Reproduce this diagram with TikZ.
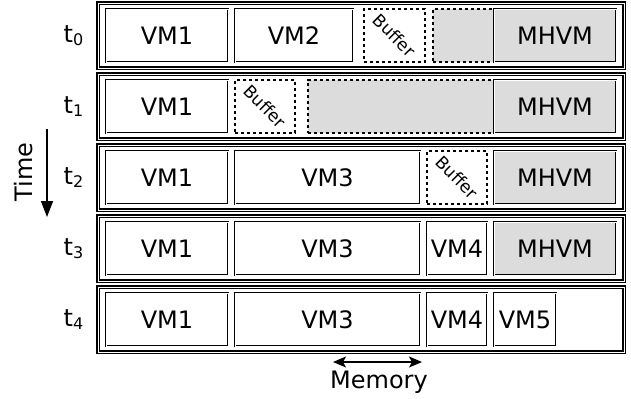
\documentclass[tikz,border=0pt]{standalone}
\usepackage{fontspec}
\setmainfont{DejaVu Sans}
\usetikzlibrary{arrows.meta}
\definecolor{shade}{HTML}{DCDCDC}
\tikzset{
  rowbox/.style={draw=black, line width=0.65pt, double=white, double distance=0.35pt, minimum width=263pt, minimum height=32.5pt, inner sep=0pt},
  vmbox/.style={draw=black, line width=0.5pt, double=white, double distance=0.25pt, minimum height=26.5pt, inner sep=0pt, font=\fontsize{12}{14}\selectfont, fill=white},
  mhbox/.style={vmbox, fill=shade},
  freebox/.style={draw=black, dash pattern=on 1.6pt off 1.4pt, line width=0.7pt, fill=shade, minimum height=26.5pt, inner sep=0pt},
  bufbox/.style={draw=black, dash pattern=on 1.6pt off 1.4pt, line width=0.7pt, fill=white, minimum height=26.5pt, inner sep=0pt},
  buftext/.style={rotate=-45, font=\fontsize{8.5}{9}\selectfont, inner sep=0pt},
  tlabel/.style={font=\fontsize{12}{14}\selectfont, inner sep=0pt},
}
\begin{document}
\begin{tikzpicture}[x=0.5pt,y=-0.5pt]
\useasboundingbox (0,0) rectangle (631,398);
% rows
\foreach \i/\yy in {0/35.5,1/106.5,2/177.5,3/248.5,4/319.5}{
  \node[rowbox] (row\i) at (361,\yy) {};
  \node[tlabel] (t\i) at (74,\yy) {t\textsubscript{\i}};
}
% t0
\node[vmbox, minimum width=61pt] (a1) at (167,35.5) {VM1};
\node[vmbox, minimum width=59pt] (a2) at (294,35.5) {VM2};
\node[bufbox, minimum width=30.5pt] (ab) at (394.5,35.5) {};
\node[buftext] at (ab.center) {Buffer};
\node[freebox, minimum width=91.5pt] (af) at (524.5,35.5) {};
\node[mhbox, minimum width=61pt] (am) at (555,35.5) {MHVM};
% t1
\node[vmbox, minimum width=61pt] (b1) at (167,106.5) {VM1};
\node[bufbox, minimum width=30pt] (bb) at (265,106.5) {};
\node[buftext] at (bb.center) {Buffer};
\node[freebox, minimum width=154pt] (bf) at (462,106.5) {};
\node[mhbox, minimum width=61pt] (bm) at (555,106.5) {MHVM};
% t2
\node[vmbox, minimum width=61pt] (c1) at (167,177.5) {VM1};
\node[vmbox, minimum width=92.5pt] (c3) at (327.5,177.5) {VM3};
\node[bufbox, minimum width=30pt] (cb) at (457,177.5) {};
\node[buftext] at (cb.center) {Buffer};
\node[mhbox, minimum width=61pt] (cm) at (555,177.5) {MHVM};
% t3
\node[vmbox, minimum width=61pt] (d1) at (167,248.5) {VM1};
\node[vmbox, minimum width=92.5pt] (d3) at (327.5,248.5) {VM3};
\node[vmbox, minimum width=30pt] (d4) at (457,248.5) {VM4};
\node[mhbox, minimum width=61pt] (dm) at (555,248.5) {MHVM};
% t4
\node[vmbox, minimum width=61pt] (e1) at (167,319.5) {VM1};
\node[vmbox, minimum width=92.5pt] (e3) at (327.5,319.5) {VM3};
\node[vmbox, minimum width=30pt] (e4) at (457,319.5) {VM4};
\node[vmbox, minimum width=31pt] (e5) at (525,319.5) {VM5};
% time arrow
\coordinate (ts) at (47,129);
\coordinate (te) at (47,217);
\draw[line width=0.7pt, -{Triangle[length=8pt,width=6pt]}] (ts) -- (te);
\node[rotate=90, font=\fontsize{12}{14}\selectfont, inner sep=0pt] (time) at (24,172) {Time};
% memory arrow
\coordinate (ms) at (333,362);
\coordinate (me) at (422,362);
\draw[line width=0.7pt, {Stealth[length=6.5pt,width=5.5pt,inset=1.5pt]}-{Stealth[length=6.5pt,width=5.5pt,inset=1.5pt]}] (ms) -- (me);
\node[font=\fontsize{12}{14}\selectfont, inner sep=0pt] (mem) at (379,382) {Memory};
\end{tikzpicture}
\end{document}
